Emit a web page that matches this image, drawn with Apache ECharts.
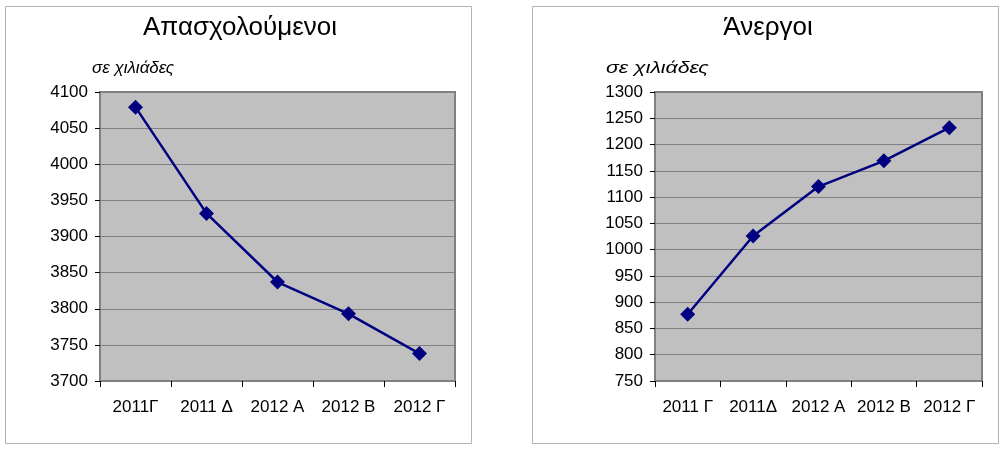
<!DOCTYPE html>
<html>
<head>
<meta charset="utf-8">
<script src="https://cdn.jsdelivr.net/npm/echarts@6/dist/echarts.min.js"></script>
<style>
html,body{margin:0;padding:0;background:#fff;}
#c{width:1008px;height:450px;}
</style>
</head>
<body>
<div id="c"></div>
<script>
// Data
var catsEmployed = ['2011Γ', '2011 Δ', '2012 Α', '2012 Β', '2012 Γ'];
var valsEmployed = [4079, 3932, 3837, 3793, 3738];
var catsUnemployed = ['2011 Γ', '2011Δ', '2012 Α', '2012 Β', '2012 Γ'];
var valsUnemployed = [877, 1026, 1120, 1169, 1232];
var titleEmployed = 'Απασχολούμενοι';
var titleUnemployed = 'Άνεργοι';
var unitLabel = 'σε χιλιάδες';

var FONT = '"Liberation Sans", Arial, sans-serif';
var chart = echarts.init(document.getElementById('c'), null, {renderer: 'canvas'});

function yAxis(idx, min, max) {
  return {
    type: 'value', gridIndex: idx, min: min, max: max, interval: 50,
    axisLine: {show: false},
    axisTick: {show: true, length: 5, lineStyle: {color: '#000', width: 1}},
    axisLabel: {color: '#000', fontSize: 17, fontFamily: FONT, margin: 12,
      formatter: function (v) { return String(v); }},
    splitLine: {show: true, lineStyle: {color: '#808080', width: 1}}
  };
}
function xAxis(idx, cats) {
  return {
    type: 'category', gridIndex: idx, data: cats, boundaryGap: true,
    axisLine: {show: false},
    axisTick: {show: true, length: 6, alignWithLabel: false, lineStyle: {color: '#000', width: 1}},
    axisLabel: {color: '#000', fontSize: 17, fontFamily: FONT, margin: 18, interval: 0},
    splitLine: {show: false}
  };
}
function series(idx, vals) {
  return {
    type: 'line', xAxisIndex: idx, yAxisIndex: idx, data: vals,
    symbol: 'diamond', symbolSize: 15,
    lineStyle: {color: '#000080', width: 2.5},
    itemStyle: {color: '#000080'},
    z: 5
  };
}

chart.setOption({
  animation: false,
  backgroundColor: '#fff',
  graphic: [
    {type: 'rect', z: -10, shape: {x: 5.5, y: 6.5, width: 466, height: 437},
     style: {fill: '#fff', stroke: '#B3B3B3', lineWidth: 1}},
    {type: 'rect', z: -10, shape: {x: 532.5, y: 6.5, width: 466, height: 437},
     style: {fill: '#fff', stroke: '#B3B3B3', lineWidth: 1}},
    {type: 'text', x: 240, y: 28, style: {text: titleEmployed, fill: '#000', font: '26px ' + FONT, textAlign: 'center', textVerticalAlign: 'middle'}},
    {type: 'text', x: 768, y: 28, style: {text: titleUnemployed, fill: '#000', font: '26px ' + FONT, textAlign: 'center', textVerticalAlign: 'middle'}},
    {type: 'text', x: 92, y: 68, style: {text: unitLabel, fill: '#000', font: 'italic 17px ' + FONT, textAlign: 'left', textVerticalAlign: 'middle'}},
    {type: 'text', x: 606, y: 68, scaleX: 1.25, style: {text: unitLabel, fill: '#000', font: 'italic 17px ' + FONT, textAlign: 'left', textVerticalAlign: 'middle'}}
  ],
  grid: [
    {left: 100, top: 92, width: 355, height: 289, show: true, backgroundColor: '#C0C0C0', borderColor: '#808080', borderWidth: 2, containLabel: false},
    {left: 655, top: 92, width: 327, height: 289, show: true, backgroundColor: '#C0C0C0', borderColor: '#808080', borderWidth: 2, containLabel: false}
  ],
  xAxis: [xAxis(0, catsEmployed), xAxis(1, catsUnemployed)],
  yAxis: [yAxis(0, 3700, 4100), yAxis(1, 750, 1300)],
  series: [series(0, valsEmployed), series(1, valsUnemployed)]
});
</script>
</body>
</html>
